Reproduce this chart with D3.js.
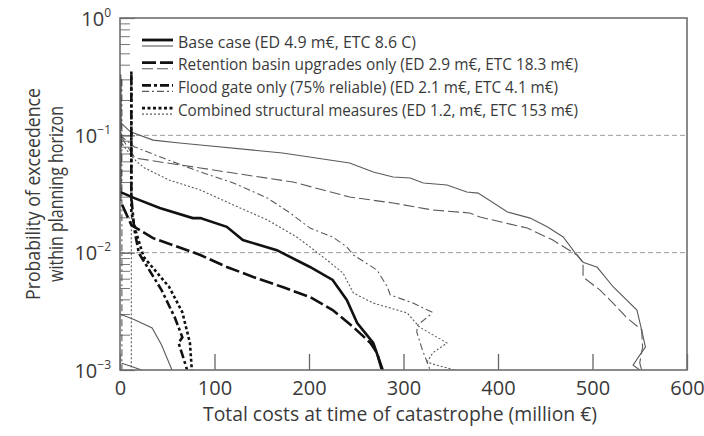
<!DOCTYPE html>
<html lang="en">
<head>
<meta charset="UTF-8" />
<title>Exceedance curves</title>
<script src="https://d3js.org/d3.v7.min.js"></script>
<style>
  body { margin: 0; background: #fff; }
  svg { display: block; font-family: "Liberation Sans Narrow", "Open Sans", sans-serif; }
</style>
</head>
<body>
<svg width="704" height="436"></svg>
<script>
  // axis ticks
  const xTickValues = [0, 100, 200, 300, 400, 500, 600];
  const yMajorTicks = [1e-3, 1e-2, 1e-1, 1];
  const yExponents = ["\u22123", "\u22122", "\u22121", "0"];
  const gridLevels = [1e-1, 1e-2];

  const legendLabels = [
    "Base case (ED 4.9 m\u20ac, ETC 8.6 C)",
    "Retention basin upgrades only (ED 2.9 m\u20ac, ETC 18.3 m\u20ac)",
    "Flood gate only (75% reliable) (ED 2.1 m\u20ac, ETC 4.1 m\u20ac)",
    "Combined structural measures (ED 1.2, m\u20ac, ETC 153 m\u20ac)"
  ];

  // [cost in million €, probability of exceedence]
  const baseThick = [[0,0.33],[0,0.033],[16,0.029],[42,0.024],[77,0.0197],[85,0.0197],[113,0.0166],[130,0.0128],[166,0.0105],[201,0.00755],[225,0.00585],[240,0.00395],[251,0.00251],[268,0.0017],[278,0.001]];
  const baseThin = [[0,0.13],[11,0.107],[35,0.091],[63,0.086],[85,0.0827],[172,0.0707],[243,0.0581],[268,0.0487],[289,0.0441],[307,0.0433],[321,0.0393],[346,0.0377],[367,0.0329],[379,0.0322],[410,0.0222],[434,0.0197],[452,0.0166],[469,0.0136],[481,0.0101],[490,0.0083],[505,0.0075],[522,0.0051],[547,0.00324],[552,0.0022],[556,0.00157],[548,0.00127],[543,0.0011],[550,0.001]];
  const retentionThick = [[0,0.3],[0,0.028],[12,0.0172],[35,0.0133],[77,0.0101],[85,0.00955],[113,0.00755],[141,0.00621],[172,0.00509],[201,0.00419],[225,0.00324],[247,0.00232],[265,0.0017],[272,0.0014],[277,0.001]];
  const retentionThin = [[0,0.1],[16,0.064],[63,0.056],[85,0.0527],[120,0.0477],[183,0.04],[215,0.0342],[243,0.0298],[289,0.0265],[331,0.0231],[370,0.0218],[381,0.0201],[431,0.0162],[458,0.0128],[484,0.0095],[490,0.0082],[490,0.0062],[508,0.0048],[522,0.0037],[536,0.0028],[552,0.0022],[553,0.00157],[550,0.00115],[552,0.001]];
  const gateThick = [[12,0.33],[12,0.03],[15,0.016],[20,0.0099],[44,0.0048],[58,0.0028],[66,0.0019],[62,0.0017],[68,0.0012],[71,0.001]];
  const gateThin = [[0,0.1],[15,0.08],[50,0.062],[85,0.0487],[120,0.0393],[156,0.0292],[180,0.0218],[201,0.0162],[225,0.0136],[240,0.0112],[247,0.00955],[272,0.00711],[283,0.00509],[286,0.00436],[310,0.00372],[330,0.00312],[328,0.00294],[315,0.00242],[314,0.00211],[320,0.00148],[325,0.00117],[328,0.001]];
  const combinedThick = [[12,0.35],[12,0.022],[17,0.015],[25,0.0092],[52,0.0051],[66,0.0031],[74,0.0017],[76,0.001]];
  const combinedThin = [[0,0.09],[10,0.07],[18,0.0593],[26,0.0527],[52,0.0416],[85,0.0342],[120,0.0255],[156,0.019],[187,0.0136],[201,0.0112],[219,0.00865],[236,0.00671],[247,0.00453],[268,0.00372],[304,0.00306],[317,0.00232],[346,0.0017],[331,0.0014],[325,0.00117],[335,0.0011],[354,0.001]];
  // unlabelled thin traces near the origin
  const extraSolidA = [[0,0.003],[16,0.00267],[34,0.00228],[44,0.00163],[55,0.001]];
  const extraSolidB = [[2,0.00114],[23,0.001]];
  const extraDotted = [[12,0.02],[12,0.001]];
  const extraDashDot = [[2,0.3],[2,0.001]];

  const dashes = {
    solid:   { thick: null, thin: null },
    dashed:  { thick: "14,4", thin: "11,4" },
    dashdot: { thick: "9,3,3,3", thin: "7,3,2,3" },
    dotted:  { thick: "3,2.5", thin: "2,2" }
  };
  const styleKeys = ["solid", "dashed", "dashdot", "dotted"];

  const series = [
    { data: extraSolidA, style: "solid", thick: false },
    { data: extraSolidB, style: "solid", thick: false },
    { data: extraDotted, style: "dotted", thick: false },
    { data: extraDashDot, style: "dashdot", thick: false },
    { data: baseThin, style: "solid", thick: false },
    { data: retentionThin, style: "dashed", thick: false },
    { data: gateThin, style: "dashdot", thick: false },
    { data: combinedThin, style: "dotted", thick: false },
    { data: baseThick, style: "solid", thick: true },
    { data: retentionThick, style: "dashed", thick: true },
    { data: gateThick, style: "dashdot", thick: true },
    { data: combinedThick, style: "dotted", thick: true }
  ];

  const svg = d3.select("svg");
  const x = d3.scaleLinear().domain([0, 600]).range([120, 687]);
  const y = d3.scaleLog().domain([1e-3, 1]).range([370, 18]);

  svg.append("defs").append("clipPath").attr("id", "plot")
    .append("rect")
    .attr("x", x(0)).attr("y", y(1))
    .attr("width", x(600) - x(0)).attr("height", y(1e-3) - y(1));

  // dashed reference lines
  svg.selectAll(".grid").data(gridLevels).enter().append("line")
    .attr("x1", x(0)).attr("x2", x(600))
    .attr("y1", d => y(d)).attr("y2", d => y(d))
    .attr("stroke", "#9a9a9a").attr("stroke-width", 1)
    .attr("stroke-dasharray", "5,3");

  // axes (ticks point inwards)
  const xAxis = svg.append("g")
    .attr("transform", `translate(0,${y(1e-3)})`)
    .call(d3.axisBottom(x).tickValues(xTickValues).tickSizeInner(-16).tickSizeOuter(0).tickPadding(11));
  xAxis.select(".domain").remove();
  xAxis.selectAll("line").attr("stroke", "#666").attr("stroke-width", 1.3);
  xAxis.selectAll("text").attr("font-size", 20).attr("fill", "#3a3a3a")
    .attr("font-family", "'Open Sans', sans-serif");

  const yMinor = svg.append("g")
    .attr("transform", `translate(${x(0)},0)`)
    .call(d3.axisLeft(y).tickValues(y.ticks()).tickSizeInner(-10).tickSizeOuter(0).tickFormat(""));
  yMinor.select(".domain").remove();
  yMinor.selectAll("line").attr("stroke", "#777").attr("stroke-width", 1);

  const yMajor = svg.append("g")
    .attr("transform", `translate(${x(0)},0)`)
    .call(d3.axisLeft(y).tickValues(yMajorTicks).tickSizeInner(-15).tickSizeOuter(0).tickFormat(""));
  yMajor.select(".domain").remove();
  yMajor.selectAll("line").attr("stroke", "#666").attr("stroke-width", 1.2);
  yMajor.selectAll(".tick").each(function (d, i) {
    const t = d3.select(this).append("text")
      .attr("x", -9).attr("dy", "0.35em")
      .attr("text-anchor", "end").attr("fill", "#3a3a3a")
      .attr("font-family", "'Open Sans', sans-serif")
      .attr("font-size", 20);
    t.append("tspan").text("10");
    t.append("tspan").attr("font-size", 12).attr("dy", "-0.75em").text(yExponents[i]);
  });

  // curves
  const line = d3.line().x(d => x(d[0])).y(d => y(d[1]));
  svg.append("g").attr("clip-path", "url(#plot)")
    .selectAll("path").data(series).enter().append("path")
    .attr("d", d => line(d.data))
    .attr("fill", "none")
    .attr("stroke", d => d.thick ? "#111" : "#5a5a5a")
    .attr("stroke-width", d => d.thick ? 2.6 : 1.1)
    .attr("stroke-dasharray", d => dashes[d.style][d.thick ? "thick" : "thin"]);

  // plot frame
  svg.append("rect")
    .attr("x", x(0)).attr("y", y(1))
    .attr("width", x(600) - x(0)).attr("height", y(1e-3) - y(1))
    .attr("fill", "none").attr("stroke", "#6e6e6e").attr("stroke-width", 1.6);

  // legend
  const legendWidths = [238, 400, 380, 400];
  const legend = svg.append("g");
  legendLabels.forEach((label, i) => {
    const ly = 40 + i * 22.7;
    const key = styleKeys[i];
    legend.append("line").attr("x1", 142).attr("x2", 173).attr("y1", ly).attr("y2", ly)
      .attr("stroke", "#111").attr("stroke-width", 2.8)
      .attr("stroke-dasharray", dashes[key].thick);
    legend.append("line").attr("x1", 142).attr("x2", 173).attr("y1", ly + 6).attr("y2", ly + 6)
      .attr("stroke", "#5a5a5a").attr("stroke-width", 1.1)
      .attr("stroke-dasharray", dashes[key].thin);
    legend.append("text").attr("x", 178).attr("y", ly + 7.5)
      .attr("font-size", 16.5).attr("fill", "#3a3a3a")
      .attr("textLength", legendWidths[i]).attr("lengthAdjust", "spacingAndGlyphs")
      .text(label);
  });

  // axis titles
  svg.append("text")
    .attr("x", 400).attr("y", 421)
    .attr("text-anchor", "middle").attr("font-size", 20).attr("fill", "#3a3a3a")
    .attr("textLength", 394).attr("lengthAdjust", "spacingAndGlyphs")
    .text("Total costs at time of catastrophe (million \u20ac)");

  const yTitle = svg.append("g").attr("transform", "translate(0,194) rotate(-90)");
  yTitle.append("text").attr("x", 0).attr("y", 40)
    .attr("text-anchor", "middle").attr("font-size", 20).attr("fill", "#3a3a3a")
    .attr("textLength", 212).attr("lengthAdjust", "spacingAndGlyphs")
    .text("Probability of exceedence");
  yTitle.append("text").attr("x", 0).attr("y", 63)
    .attr("text-anchor", "middle").attr("font-size", 20).attr("fill", "#3a3a3a")
    .attr("textLength", 176).attr("lengthAdjust", "spacingAndGlyphs")
    .text("within planning horizon");
</script>
</body>
</html>
